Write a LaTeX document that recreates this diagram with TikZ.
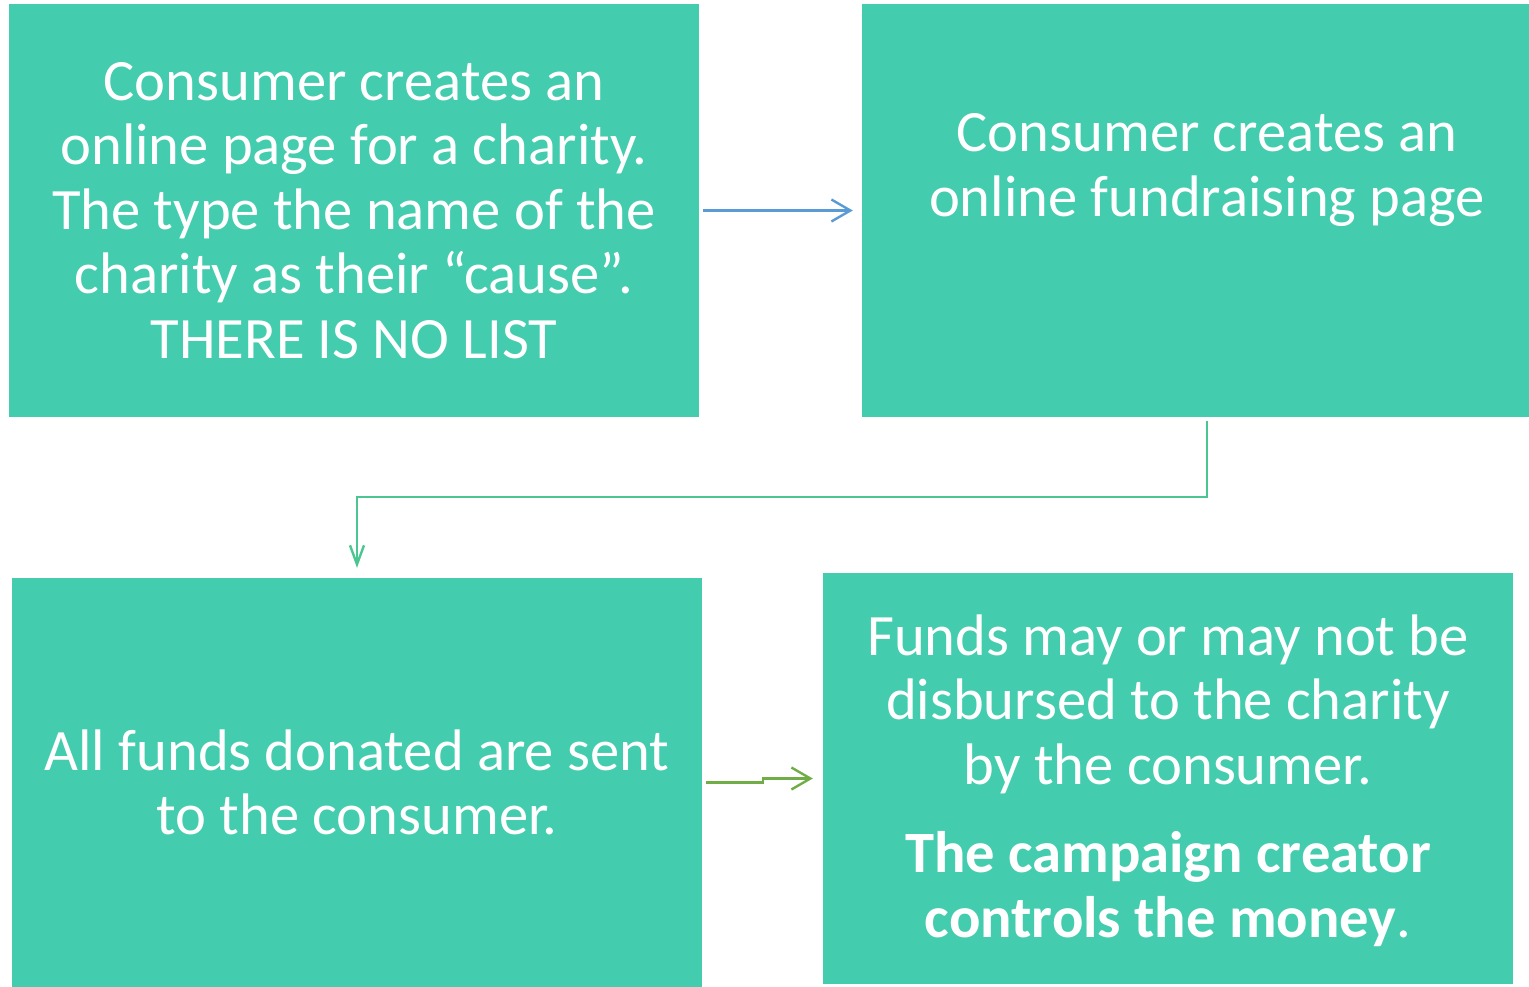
\documentclass[tikz,border=0pt]{standalone}
\usepackage{fontspec}
\setmainfont{Carlito}
\usetikzlibrary{arrows.meta}
\definecolor{boxc}{HTML}{43CCAE}
\definecolor{arrblue}{HTML}{5B9BD5}
\definecolor{arrgreen}{HTML}{4CC691}
\definecolor{arrolive}{HTML}{70AD47}
\tikzset{
  box/.style={fill=boxc, draw=none, inner sep=0pt, text=white, align=center,
    font=\fontsize{58.6}{64.5}\selectfont},
  conn/.style={line width=2.4pt, -{Straight Barb[length=19pt,width=22pt,line width=2.4pt]}},
}
\begin{document}
\begin{tikzpicture}[x=1pt,y=-1pt]
\useasboundingbox (0,0) rectangle (1529,987);
\node[box, minimum width=690pt, minimum height=413pt] (b1) at (354,210.5)
  {Consumer creates an\\online page for a charity.\\The type the name of the\\charity as their “cause”.\\THERE IS NO LIST};
\node[box, minimum width=667pt, minimum height=413pt] (b2) at (1195.5,210.5) {};
\node[box, fill=none] (t2) at (1207,170) {Consumer creates an\\online fundraising page};
\node[box, minimum width=690pt, minimum height=409pt] (b3) at (357,782.5)
  {All funds donated are sent\\to the consumer.};
\node[box, minimum width=690pt, minimum height=411pt] (b4) at (1168,778.5) {};
\node[box, fill=none] (t4) at (1168,780.5)
  {Funds may or may not be\\disbursed to the charity\\by the consumer.\\[24pt]\textbf{The campaign creator}\\\textbf{controls the money}.};
\draw[conn, arrblue, shorten <=4pt, shorten >=9pt] (b1.east) -- (b2.west |- b1.east);
\draw[conn, arrgreen, -{Straight Barb[length=19pt,width=14pt,line width=2.4pt]}, shorten <=4pt, shorten >=10pt]
  ([xshift=11.5pt]b2.south) -- ++(0,80) -| (b3.north);
\draw[conn, arrolive, shorten <=4pt, shorten >=10pt]
  (b3.east) -- ++(61,0) |- (b4.west);
\end{tikzpicture}
\end{document}
